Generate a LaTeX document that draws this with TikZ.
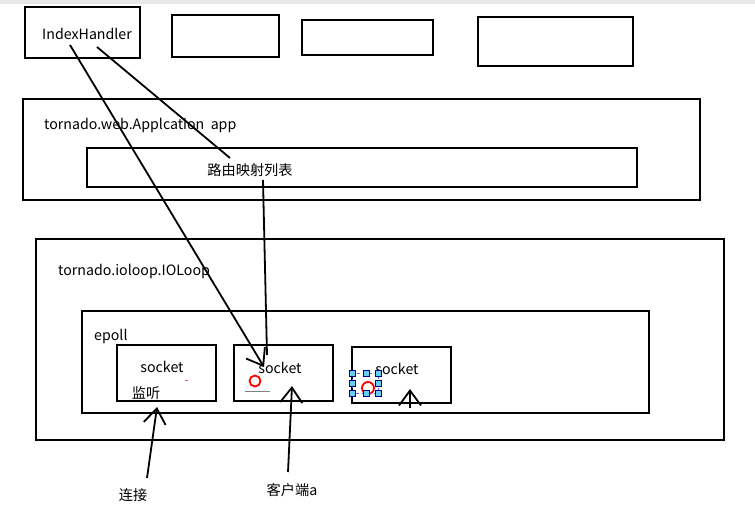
\documentclass[tikz,border=0pt]{standalone}
\usepackage{fontspec}
\setmainfont{Noto Sans CJK SC}
\usepackage{tikz}
\usetikzlibrary{arrows.meta}

\begin{document}
\begin{tikzpicture}[x=1pt,y=-1pt,font=\fontsize{14.2}{16}\selectfont,
        box/.style={draw=black,line width=2pt,inner sep=0pt},
        lbl/.style={anchor=west,inner sep=0pt},
        txt/.style={inner sep=0pt},
        wire/.style={line width=1.8pt},
        arr/.style={wire,-{Straight Barb[length=15pt,width=22pt,line width=1.8pt]}},
        handle/.style={fill=cyan!60,draw=blue!50!black,line width=0.4pt}]
        \useasboundingbox (0,0) rectangle (755,512);
        \fill[gray!18] (0,0) rectangle (755,4);
        % top row of handlers
        \node[box,minimum width=115,minimum height=51] (ih) at (82.5,32.5) {};
        \node[box,minimum width=107,minimum height=42] (h2) at (225.5,36) {};
        \node[box,minimum width=131,minimum height=35] (h3) at (367.5,37.5) {};
        \node[box,minimum width=155,minimum height=49] (h4) at (555.5,41.5) {};
        \node[lbl] (ihl) at (42,34) {IndexHandler};
        % application
        \node[box,minimum width=677,minimum height=101] (app) at (361.5,149.5) {};
        \node[lbl] (appl) at (44,125) {tornado.web.Applcation\ \ app};
        \node[box,minimum width=550,minimum height=39] (route) at (362,167.5) {};
        \node[txt] (routel) at (250,170) {路由映射列表};
        % ioloop and epoll
        \node[box,minimum width=688,minimum height=201] (ioloop) at (380,339.5) {};
        \node[lbl] (ioloopl) at (58,271) {tornado.ioloop.IOLoop};
        \node[box,minimum width=567,minimum height=102] (epoll) at (365.5,362) {};
        \node[lbl] (epolll) at (94,336) {epoll};
        \node[box,minimum width=99,minimum height=56] (s1) at (166.5,373) {};
        \node[box,minimum width=99,minimum height=56] (s2) at (283.5,373) {};
        \node[box,minimum width=99,minimum height=56] (s3) at (401.5,375) {};
        \node[txt] (s1l) at (162,367) {socket};
        \node[txt] (s2l) at (280,368) {socket};
        \node[txt] (s3l) at (397,369) {socket};
        \node[txt] (listen) at (146,393) {监听};
        \node[txt] (conn) at (133,495) {连接};
        \node[txt] (client) at (292,490) {客户端a};
        % connector ends
        \coordinate (ihA) at (70,45);
        \coordinate (ihB) at (97,47);
        \coordinate (routeA) at (230,158);
        \coordinate (routeB) at (263,180);
        \coordinate (s2top) at (267,355);
        \coordinate (s2tip) at (264,367);
        \coordinate (s1tip) at (157,407);
        \coordinate (connA) at (147,478);
        \coordinate (s2bot) at (292,386);
        \coordinate (clientA) at (288,472);
        \coordinate (s3bot) at (410,389);
        \coordinate (s3A) at (410,408);
        \draw[arr] (ihA) -- (s2tip);
        \draw[wire] (ihB) -- (routeA);
        \draw[wire] (routeB) -- (s2top);
        \draw[arr] (connA) -- (s1tip);
        \draw[arr] (clientA) -- (s2bot);
        \draw[arr] (s3A) -- (s3bot);
        % marks
        \draw[red,line width=1.8pt] (255,381) circle (5.5);
        \draw[gray,line width=1pt] (245,391) -- (270,391);
        \draw[red!70,line width=1pt] (185,380) -- (188,380);
        \draw[red,line width=1.8pt] (368,388) circle (6);
        \draw[blue!60,dashed,line width=0.6pt] (352,373) rectangle (378,393);
        \foreach \hx/\hy in {352/373,366/373,378/373,352/383,378/383,352/393,366/393,378/393}
          \filldraw[handle] (\hx-3,\hy-3) rectangle (\hx+3,\hy+3);
      \end{tikzpicture}
\end{document}
